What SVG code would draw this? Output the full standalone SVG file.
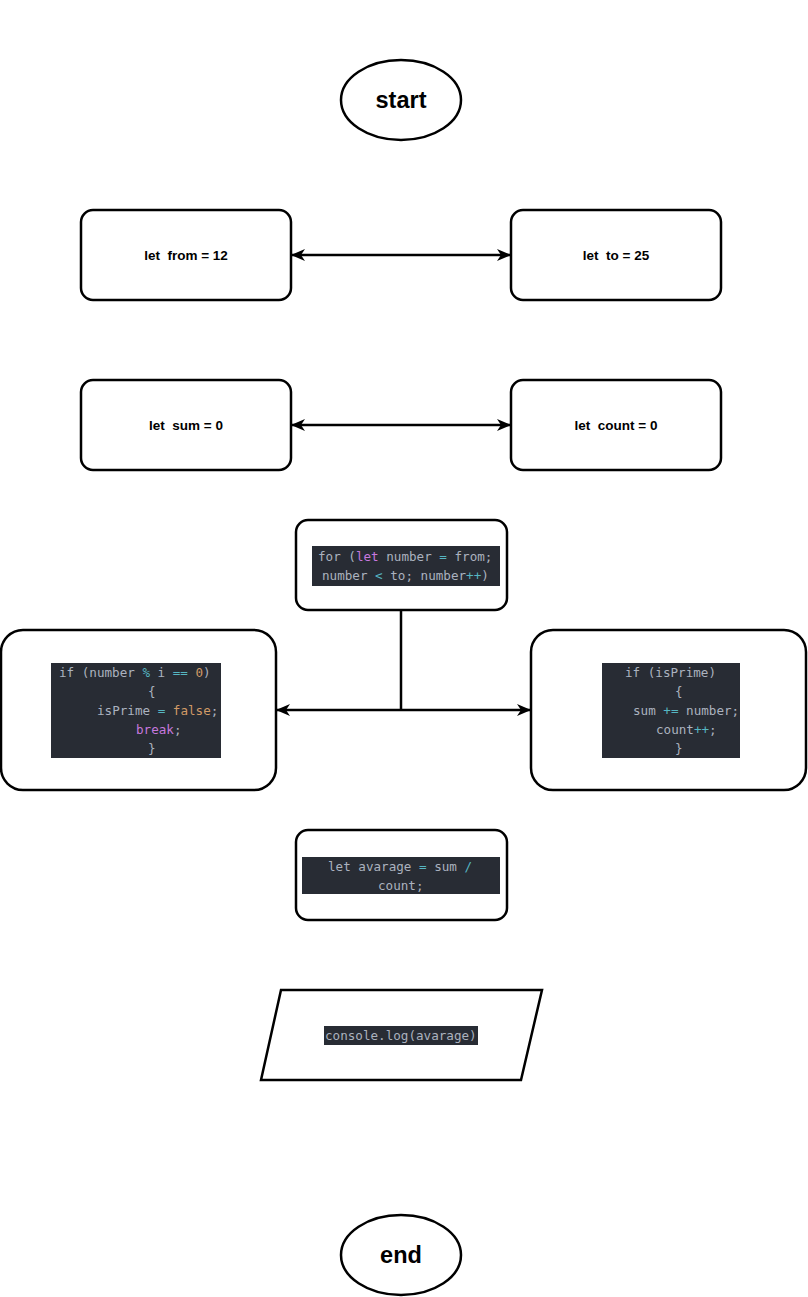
<svg xmlns="http://www.w3.org/2000/svg" width="808" height="1297" viewBox="0 0 808 1297">
<style>
.shape{fill:#fff;stroke:#000;stroke-width:2.5}
.lbl{font-family:"Liberation Sans",Arial,sans-serif;font-weight:bold;font-size:13.5px;fill:#000;text-anchor:middle}
.big{font-family:"Liberation Sans",Arial,sans-serif;font-weight:bold;font-size:23.5px;fill:#000;text-anchor:middle}
.bg{fill:#282c34}
.code{font-family:"DejaVu Sans Mono","Liberation Mono",monospace;font-size:12.6px;fill:#abb2bf}
.kw{fill:#c678dd}.op{fill:#56b6c2}.nm{fill:#d19a66}
.conn{fill:none;stroke:#000;stroke-width:2.5}
</style>
<defs>
<marker id="ah" viewBox="0 0 14 12" refX="13" refY="6" markerWidth="14" markerHeight="12" orient="auto-start-reverse" markerUnits="userSpaceOnUse">
<path d="M0,0 L14,6 L0,12 L4,6 Z" fill="#000"/>
</marker>
</defs>
<rect width="808" height="1297" fill="#fff"/>
<g id="connectors">
<line class="conn" x1="292" y1="255" x2="510" y2="255" marker-start="url(#ah)" marker-end="url(#ah)"/>
<line class="conn" x1="292" y1="425" x2="510" y2="425" marker-start="url(#ah)" marker-end="url(#ah)"/>
<line class="conn" x1="401" y1="610" x2="401" y2="710"/>
<line class="conn" x1="401" y1="710" x2="277" y2="710" marker-end="url(#ah)"/>
<line class="conn" x1="401" y1="710" x2="530" y2="710" marker-end="url(#ah)"/>
</g>
<g id="start">
<ellipse class="shape" cx="401" cy="100" rx="60" ry="40"/>
<text class="big" x="401" y="108">start</text>
</g>
<g id="from">
<rect class="shape" x="81" y="210" width="210" height="90" rx="12"/>
<text class="lbl" x="186" y="260" xml:space="preserve">let  from = 12</text>
</g>
<g id="to">
<rect class="shape" x="511" y="210" width="210" height="90" rx="12"/>
<text class="lbl" x="616" y="260" xml:space="preserve">let  to = 25</text>
</g>
<g id="sum">
<rect class="shape" x="81" y="380" width="210" height="90" rx="12"/>
<text class="lbl" x="186" y="430" xml:space="preserve">let  sum = 0</text>
</g>
<g id="count">
<rect class="shape" x="511" y="380" width="210" height="90" rx="12"/>
<text class="lbl" x="616" y="430" xml:space="preserve">let  count = 0</text>
</g>
<g id="for">
<rect class="shape" x="296" y="520" width="211" height="90" rx="12"/>
<rect class="bg" x="312" y="546" width="188" height="40"/>
<text class="code" x="318" y="560.5" xml:space="preserve">for (<tspan class="kw">let</tspan> number <tspan class="op">=</tspan> from;</text>
<text class="code" x="322" y="580" xml:space="preserve">number <tspan class="op">&lt;</tspan> to; number<tspan class="op">++</tspan>)</text>
</g>
<g id="ifnot">
<rect class="shape" x="1" y="630" width="275" height="160" rx="22"/>
<rect class="bg" x="51" y="663" width="170" height="95"/>
<text class="code" x="59" y="677" xml:space="preserve">if (number <tspan class="op">%</tspan> i <tspan class="op">==</tspan> <tspan class="nm">0</tspan>)</text>
<text class="code" x="148" y="696">{</text>
<text class="code" x="97" y="715" xml:space="preserve">isPrime <tspan class="op">=</tspan> <tspan class="nm">false</tspan>;</text>
<text class="code" x="136" y="734"><tspan class="kw">break</tspan>;</text>
<text class="code" x="148" y="753">}</text>
</g>
<g id="ifprime">
<rect class="shape" x="531" y="630" width="275" height="160" rx="22"/>
<rect class="bg" x="602" y="663" width="138" height="95"/>
<text class="code" x="625" y="677">if (isPrime)</text>
<text class="code" x="675" y="696">{</text>
<text class="code" x="633" y="715" xml:space="preserve">sum <tspan class="op">+=</tspan> number;</text>
<text class="code" x="656" y="734">count<tspan class="op">++</tspan>;</text>
<text class="code" x="675" y="753">}</text>
</g>
<g id="average">
<rect class="shape" x="296" y="830" width="211" height="90" rx="12"/>
<rect class="bg" x="302" y="857" width="198" height="37"/>
<text class="code" x="328" y="870.5" xml:space="preserve">let avarage <tspan class="op">=</tspan> sum <tspan class="op">/</tspan></text>
<text class="code" x="378" y="889.5">count;</text>
</g>
<g id="output">
<polygon class="shape" points="281,990 542,990 521,1080 261,1080"/>
<rect class="bg" x="324" y="1026" width="154" height="19"/>
<text class="code" x="325" y="1040">console.log(avarage)</text>
</g>
<g id="end">
<ellipse class="shape" cx="401" cy="1255" rx="60" ry="40"/>
<text class="big" x="401" y="1263">end</text>
</g>
</svg>
